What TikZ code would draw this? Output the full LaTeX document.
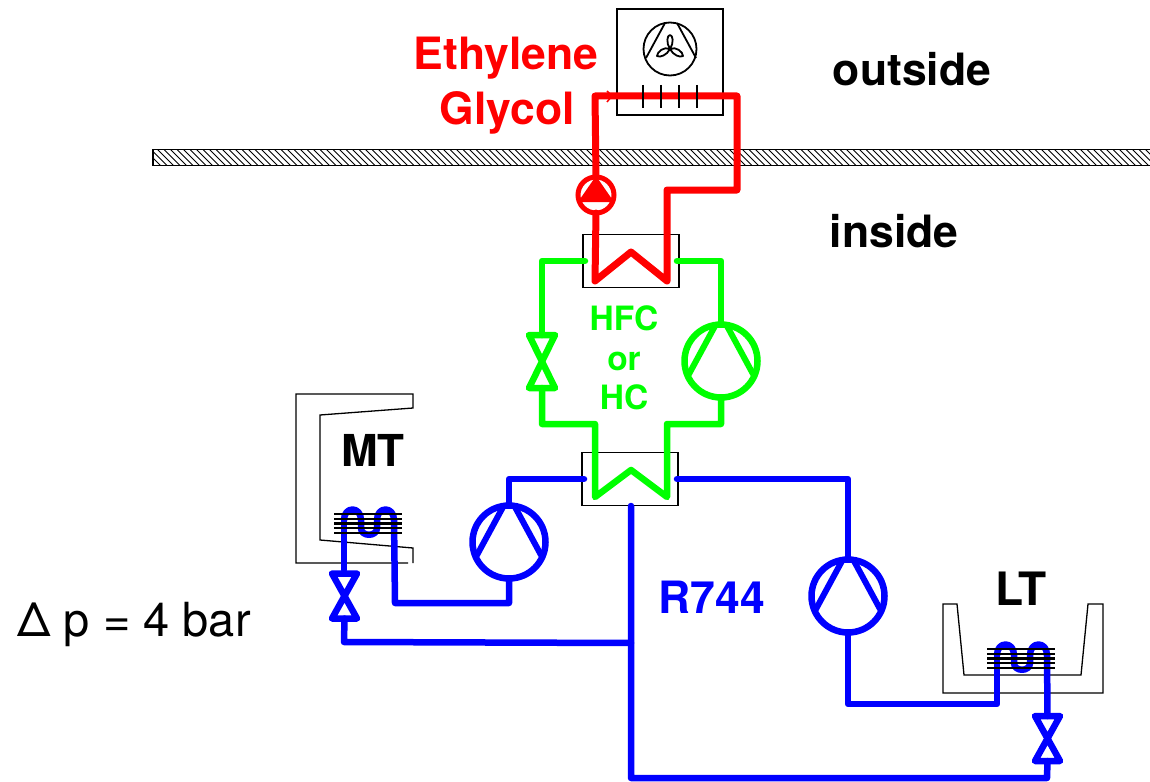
\documentclass[tikz,border=0pt]{standalone}
\usepackage{fontspec}
\setmainfont{TeX Gyre Heros}
\definecolor{rd}{RGB}{255,0,0}
\definecolor{gn}{RGB}{0,255,0}
\definecolor{bl}{RGB}{0,0,255}
\tikzset{
  pipe/.style={line width=6.5pt,line join=round,line cap=round},
  redpipe/.style={pipe,rd,line width=7pt},
  compr/.style={circle,draw,line width=6.5pt,minimum size=73pt,inner sep=0pt,outer sep=0pt},
  hx/.style={rectangle,draw=black,line width=1.8pt,minimum width=96pt,minimum height=53pt,inner sep=0pt,outer sep=0pt},
  valvebox/.style={rectangle,minimum width=26pt,minimum height=53pt,inner sep=0pt,outer sep=0pt},
  label/.style={font=\bfseries\fontsize{44.5pt}{48pt}\selectfont,inner sep=0pt},
  midlabel/.style={font=\bfseries\fontsize{33.5pt}{36pt}\selectfont,inner sep=0pt,gn},
  thin box/.style={draw=black,line width=1.3pt,line join=miter},
  fin/.style={black,line width=2.2pt},
}
\newcommand{\comprmark}[2]{% name, colour
  \draw[#2,line width=6pt,line cap=round] ($(#1)+(-6,-35)$) -- ($(#1)+(-32,13)$);
  \draw[#2,line width=6pt,line cap=round] ($(#1)+(6,-35)$) -- ($(#1)+(32,13)$);
}
\newcommand{\valvemark}[2]{% name, colour
  \draw[#2,line width=6.5pt,line join=round] (#1.north west) -- (#1.north east) -- (#1.south west) -- (#1.south east) -- cycle;
}
\newcommand{\coil}[1]{% fin block anchored at coordinate: left tube top
  \foreach \dy in {6,11,15.5,20,25}
    \draw[fin] ($(#1)+(-10,\dy)$) -- ($(#1)+(58,\dy)$);
}
\usetikzlibrary{calc}
\begin{document}
\begin{tikzpicture}[x=1pt,y=-1pt]
\useasboundingbox (0,0) rectangle (1150,781);
% wall
\begin{scope}
  \clip (152,149) rectangle (1150,165);
  \foreach \k in {140,146.5,...,1160}
    \draw[black,line width=0.8pt] (\k,145) -- (\k+24,169);
\end{scope}
\node[draw=black,line width=1.5pt,minimum width=1000pt,minimum height=16pt,inner sep=0pt,outer sep=0pt,anchor=north west] (wall) at (153,149.5) {};
% condenser box and fan
\node[rectangle,thin box,line width=1.8pt,minimum width=106pt,minimum height=106pt,inner sep=0pt,outer sep=0pt] (fanbox) at (670,62) {};
\node[circle,draw=black,line width=1.8pt,minimum size=53pt,inner sep=0pt,outer sep=0pt] (fan) at (670,49) {};
\draw[black,line width=1.8pt] ($(fan)+(-5,-26)$) -- ($(fan)+(-24,9)$);
\draw[black,line width=1.8pt] ($(fan)+(7,-26)$) -- ($(fan)+(26,9)$);
\draw[black,line width=1.8pt,line join=round]
  (fan.center) .. controls ($(fan)+(-4,-6)$) and ($(fan)+(-3,-14)$) .. ($(fan)+(0,-14)$)
        .. controls ($(fan)+(3,-14)$) and ($(fan)+(4,-6)$) .. (fan.center)
        .. controls ($(fan)+(6,-3)$) and ($(fan)+(13,3)$) .. ($(fan)+(13,7)$)
        .. controls ($(fan)+(10,9)$) and ($(fan)+(3,6)$) .. (fan.center)
        .. controls ($(fan)+(-3,6)$) and ($(fan)+(-10,9)$) .. ($(fan)+(-13,7)$)
        .. controls ($(fan)+(-13,3)$) and ($(fan)+(-6,-3)$) .. (fan.center);
% heat exchangers
\node[hx] (hxtop) at (631,261) {};
\node[hx] (hxbot) at (630,479) {};
\coordinate (hxtopL) at (585,261);
\coordinate (hxtopR) at (677,261);
\coordinate (hxbotL) at (584,479);
\coordinate (hxbotR) at (677,479);
\coordinate (hxbotS) at (631,506);
% cabinets
\draw[thin box] (408,563) -- (296,563) -- (296,394) -- (413,394) -- (413,408) -- (320,415) -- (320,540) -- (413,548) -- (413,563);
\draw[thin box] (943,604) -- (943,693) -- (1103,693) -- (1103,604) -- (1088,604) -- (1081,675) -- (964,675) -- (957,604) -- cycle;
% red circuit
\node[circle,draw=rd,line width=5pt,minimum size=36pt,inner sep=0pt,outer sep=0pt] (pump) at (596,195) {};
\fill[rd] (596,176) -- (614,202) -- (578,202) -- cycle;
\coordinate (rT) at (595,96);
\coordinate (rA) at (737,96);
\coordinate (rB) at (737,190);
\coordinate (rC) at (667,190);
\coordinate (rD) at (667,281);
\coordinate (rE) at (631,252);
\coordinate (rF) at (595,281);
\draw[redpipe] (pump.north) -- (rT) -- (rA) -- (rB) -- (rC) -- (rD) -- (rE) -- (rF) -- (pump.south);
\coordinate (rArrow) at (612,96);
\draw[rd,line width=1.5pt] ($(rArrow)+(-5,-5)$) -- (rArrow) -- ($(rArrow)+(-5,6)$);
\foreach \x in {643,661,679,697}
  \draw[black,line width=1.8pt] (\x,85) -- (\x,108);
% green circuit
\node[compr,draw=gn] (cG) at (721,361) {};
\comprmark{cG}{gn}
\node[valvebox] (vG) at (542,361.5) {};
\valvemark{vG}{gn}
\coordinate (gA) at (542,261);
\coordinate (gB) at (542,424);
\coordinate (gC) at (595,424);
\coordinate (gD) at (595,497);
\coordinate (gE) at (631,470);
\coordinate (gF) at (667,497);
\coordinate (gG) at (667,424);
\coordinate (gH) at (721,424);
\coordinate (gI) at (721,261);
\draw[pipe,gn] (hxtopL) -- (gA) -- (vG.north);
\draw[pipe,gn] (vG.south) -- (gB) -- (gC) -- (gD) -- (gE) -- (gF) -- (gG) -- (gH) -- (cG.south);
\draw[pipe,gn] (cG.north) -- (gI) -- (hxtopR);
% blue circuit
\node[compr,draw=bl] (cM) at (509,542) {};
\comprmark{cM}{bl}
\node[compr,draw=bl] (cL) at (848,596) {};
\comprmark{cL}{bl}
\node[valvebox,minimum width=25pt,minimum height=45pt] (vM) at (344.5,596) {};
\valvemark{vM}{bl}
\node[valvebox,minimum width=25pt,minimum height=45pt] (vL) at (1047.5,738.5) {};
\valvemark{vL}{bl}
\coordinate (mA) at (509,479);
\coordinate (mB) at (509,603);
\coordinate (mC) at (395,603);
\coordinate (mT) at (344,508);
\coordinate (mE) at (344,570);
\coordinate (mF) at (344,642);
\coordinate (jM) at (631,643);
\coordinate (tB) at (631,778);
\coordinate (tC) at (1047,778);
\coordinate (lA) at (848,479);
\coordinate (lB) at (848,704);
\coordinate (lC) at (997,704);
\coordinate (lT) at (997,643);
\draw[pipe,bl] (hxbotL) -- (mA) -- (cM.north);
\draw[pipe,bl] (cM.south) -- (mB) -- (mC) -- ($(mT)+(50,12)$);
\draw[pipe,bl] (hxbotR) -- (lA) -- (cL.north);
\draw[pipe,bl] (cL.south) -- (lB) -- (lC) -- ($(lT)+(0,12)$);
\draw[pipe,bl] (hxbotS) -- (tB) -- (tC) -- (vL.south);
\draw[pipe,bl] (vM.south) -- (mF) -- (jM);
\draw[pipe,bl] (vL.north) -- ($(lT)+(50,12)$);
\newcommand{\tube}[1]{%
  \draw[pipe,bl] ($(#1)+(0,12)$) .. controls ($(#1)+(0,-2)$) and ($(#1)+(17,-2)$) .. ($(#1)+(17,12)$)
    -- ($(#1)+(17,20)$) .. controls ($(#1)+(17,29)$) and ($(#1)+(33,29)$) .. ($(#1)+(33,20)$)
    -- ($(#1)+(33,12)$) .. controls ($(#1)+(33,-2)$) and ($(#1)+(50,-2)$) .. ($(#1)+(50,12)$);
}
\tube{mT}
\tube{lT}
\draw[pipe,bl] ($(mT)+(0,12)$) -- (mE);
\coil{mT}
\coil{lT}
% labels
\node[label,rd] (t1) at (506,58) {Ethylene};
\node[label,rd] (t2) at (507,113) {Glycol};
\node[label] (t3) at (912,69) {outside};
\node[label] (t4) at (894,231) {inside};
\node[midlabel] (t5) at (624,318) {HFC};
\node[midlabel] (t6) at (624,361) {or};
\node[midlabel] (t7) at (624,397) {HC};
\node[label,font=\bfseries\fontsize{44pt}{46pt}\selectfont] (t8) at (373,450) {MT};
\node[label,font=\bfseries\fontsize{46pt}{48pt}\selectfont] (t9) at (1021,589) {LT};
\node[label,bl] (t10) at (712,597) {R744};
\node[inner sep=0pt,font=\fontsize{47pt}{50pt}\selectfont] (t11) at (134,624) {Δ p = 4 bar};
\end{tikzpicture}
\end{document}
